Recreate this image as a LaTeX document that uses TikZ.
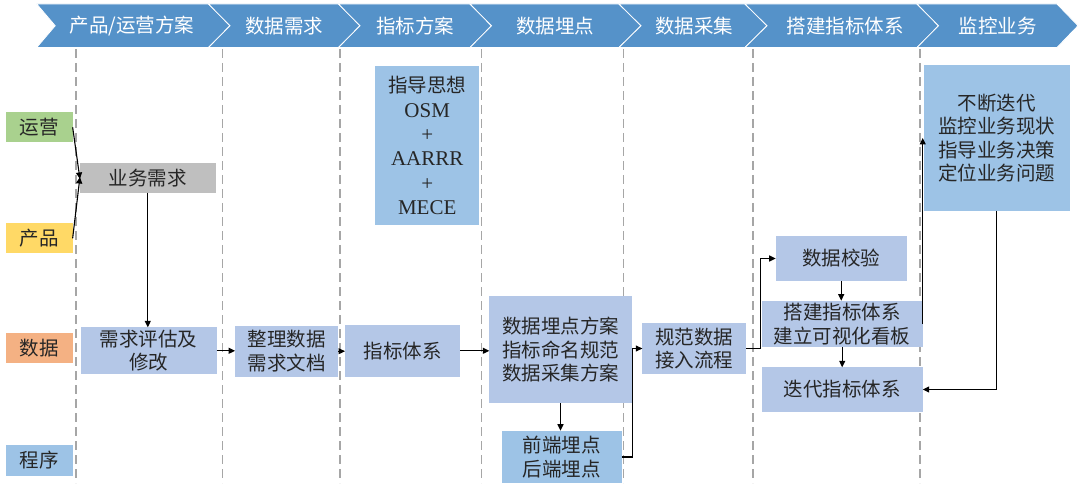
\documentclass[tikz,border=0pt]{standalone}
\usepackage{fontspec}
\setmainfont{Liberation Serif}
\newfontfamily\cjk{Noto Sans CJK SC}
\usetikzlibrary{arrows.meta}
\definecolor{hdr}{HTML}{5592C9}
\definecolor{boxa}{HTML}{B4C7E7}
\definecolor{boxb}{HTML}{9DC3E6}
\definecolor{grn}{HTML}{A9D18E}
\definecolor{ylw}{HTML}{FFD966}
\definecolor{org}{HTML}{F4B183}
\definecolor{gry}{HTML}{BFBFBF}
\definecolor{dsh}{HTML}{A6A6A6}
\definecolor{txt}{HTML}{262626}
\begin{document}
\begin{tikzpicture}[x=1pt,y=-1pt,
  every node/.style={inner sep=0pt, outer sep=0pt, align=center, text=txt,
    font=\cjk\fontsize{19.5}{23.5}\selectfont},
  sz/.style 2 args={minimum width=#1pt, minimum height=#2pt},
  boxA/.style={fill=boxa},
  boxB/.style={fill=boxb},
  hdrtext/.style={text=white},
  chev/.style={fill=hdr, draw=white, line width=0.8pt, line join=miter},
  lane/.style={draw=dsh, line width=1.3pt, dash pattern=on 9pt off 5pt},
  arr/.style={draw=black, line width=1.1pt, -{Triangle[length=6.5pt,width=6pt]}},
  ln/.style={draw=black, line width=1.1pt}
]
\useasboundingbox (0,0) rectangle (1079,489);

% header chevrons
\foreach \a/\da/\b/\db in {36.7/18.5/208.5/21.5, 208.5/21.5/338.5/21.5, 338.5/21.5/470/21.5,
  470/21.5/619/22, 619/22/745/22, 745/22/917/21.5, 917/21.5/1057/21}
  \path[chev] (\a,4) -- (\b,4) -- (\b+\db,25.75) -- (\b,47.5) -- (\a,47.5) -- (\a+\da,25.75) -- cycle;

\node[hdrtext] (h1) at (132,26) {产品/运营方案};
\node[hdrtext] (h2) at (284,26) {数据需求};
\node[hdrtext] (h3) at (415,26) {指标方案};
\node[hdrtext] (h4) at (555,26) {数据埋点};
\node[hdrtext] (h5) at (694,26) {数据采集};
\node[hdrtext] (h6) at (845,26) {搭建指标体系};
\node[hdrtext] (h7) at (997.5,26) {监控业务};

% lane separators
\foreach \x in {76,222.7,340,481.7,623.3,753,920}
  \draw[lane] (\x,49) -- (\x,483);

% role labels
\node[fill=grn, sz={66.7}{30}] (yy) at (39.3,127.3) {运营};
\node[fill=ylw, sz={66.7}{30}] (cp) at (39.3,238.3) {产品};
\node[fill=org, sz={66.7}{30}] (sjr) at (39.3,348.3) {数据};
\node[fill=boxb, sz={66.7}{30.5}] (cx) at (39.3,460.3) {程序};

% process boxes
\node[fill=gry, sz={135.7}{29.4}] (yw) at (147.8,178) {业务需求};
\node[boxA, sz={136}{47}] (xq) at (148.7,350.8) {需求评估及\\修改};
\node[boxA, sz={103.3}{51}] (zl) at (286.7,351.2) {整理数据\\需求文档};
\node[boxA, sz={115}{51.7}] (zb) at (402.5,350.8) {指标体系};
\node[boxB, sz={104.3}{159}, font=\fontsize{21}{24.3}\selectfont] (zd) at (427.2,145.5)
  {{\cjk\fontsize{19.5}{24.3}\selectfont 指导思想}\\OSM\\+\\AARRR\\+\\MECE};
\node[boxA, sz={142.4}{107.3}] (md) at (560.5,349.7) {数据埋点方案\\指标命名规范\\数据采集方案};
\node[boxB, sz={120}{52.6}] (qd) at (561.7,457) {前端埋点\\后端埋点};
\node[boxA, sz={103.7}{51.6}] (gf) at (694.2,348.5) {规范数据\\接入流程};
\node[boxA, sz={131}{45}] (sj) at (841.2,258.5) {数据校验};
\node[boxA, sz={161}{46.6}] (dj) at (842.2,324) {搭建指标体系\\建立可视化看板};
\node[boxA, sz={161}{44.4}] (dd) at (842.2,389.5) {迭代指标体系};
\node[boxB, sz={145.5}{146}] (bd) at (996.8,138) {不断迭代\\监控业务现状\\指导业务决策\\定位业务问题};

% connectors
\draw[arr] (yy.east) -- ([yshift=-1pt]yw.west);
\draw[arr] (cp.east) -- ([yshift=1pt]yw.west);
\draw[arr] (yw.south) -- (yw.south |- xq.north);
\draw[arr] (xq.east) -- (xq.east -| zl.west);
\draw[arr] (zl.east) -- (zl.east -| zb.west);
\draw[arr] (zb.east) -- (zb.east -| md.west);
\draw[arr] (md.south) -- (md.south |- qd.north);
\draw[arr] (qd.east) -- ++(10.6,0) |- (gf.west);
\draw[arr] (gf.east) -- ++(14.5,0) |- (sj.west);
\draw[arr] (sj.south) -- (sj.south |- dj.north);
\draw[arr] (dj.south) -- (dj.south |- dd.north);
\draw[arr] (dj.east) -- (dj.east |- bd.west);
\draw[arr] (bd.south) |- (dd.east);
\end{tikzpicture}
\end{document}
